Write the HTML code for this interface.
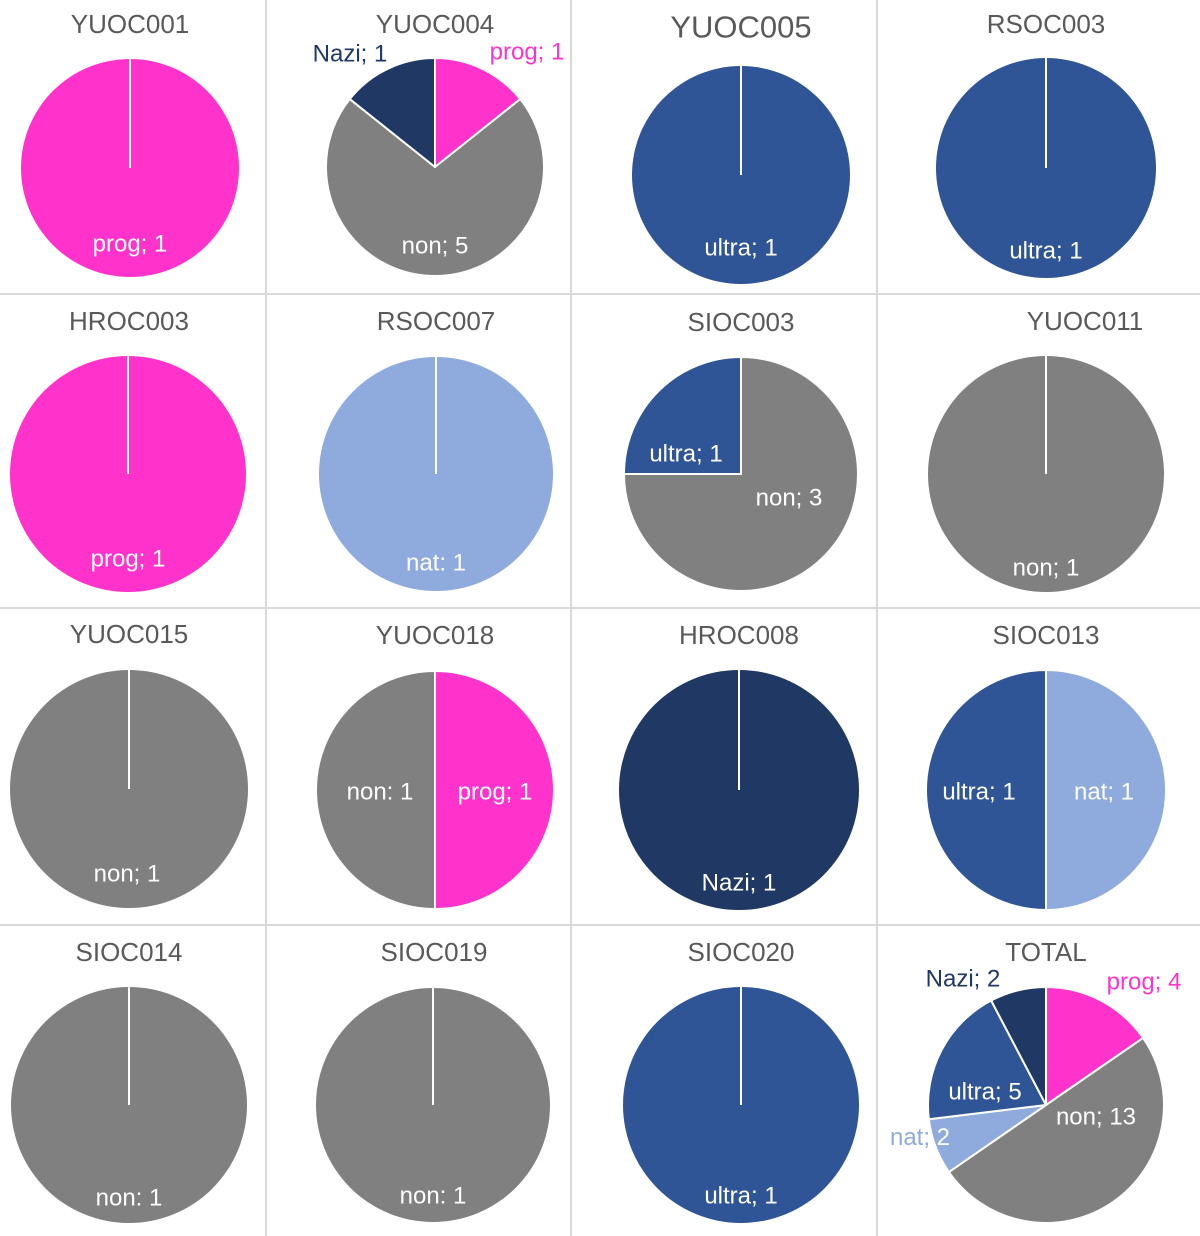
<!DOCTYPE html>
<html><head><meta charset="utf-8">
<style>
html,body{margin:0;padding:0;background:#fff;}
svg{display:block;font-family:"Liberation Sans",Arial,sans-serif;}
</style></head>
<body>
<svg id="chart" width="1200" height="1236" viewBox="0 0 1200 1236">
<g id="grid">
<line x1="266" y1="0" x2="266" y2="1236" stroke="#d9d9d9" stroke-width="2"/>
<line x1="571" y1="0" x2="571" y2="1236" stroke="#d9d9d9" stroke-width="2"/>
<line x1="877" y1="0" x2="877" y2="1236" stroke="#d9d9d9" stroke-width="2"/>
<line x1="0" y1="294" x2="1200" y2="294" stroke="#d9d9d9" stroke-width="2"/>
<line x1="0" y1="608" x2="1200" y2="608" stroke="#d9d9d9" stroke-width="2"/>
<line x1="0" y1="925" x2="1200" y2="925" stroke="#d9d9d9" stroke-width="2"/>
</g>
</svg>
<script>
const titles = ["YUOC001","YUOC004","YUOC005","RSOC003","HROC003","RSOC007","SIOC003","YUOC011","YUOC015","YUOC018","HROC008","SIOC013","SIOC014","SIOC019","SIOC020","TOTAL"];
const categories = [["prog"],["prog","non","Nazi"],["ultra"],["ultra"],["prog"],["nat"],["non","ultra"],["non"],["non"],["prog","non"],["Nazi"],["nat","ultra"],["non"],["non"],["ultra"],["prog","non","nat","ultra","Nazi"]];
const values = [[1],[1,5,1],[1],[1],[1],[1],[3,1],[1],[1],[1,1],[1],[1,1],[1],[1],[1],[4,13,2,5,2]];
const labelText = [["prog; 1"],["prog; 1","non; 5","Nazi; 1"],["ultra; 1"],["ultra; 1"],["prog; 1"],["nat: 1"],["non; 3","ultra; 1"],["non; 1"],["non; 1"],["prog; 1","non: 1"],["Nazi; 1"],["nat; 1","ultra; 1"],["non: 1"],["non: 1"],["ultra; 1"],["prog; 4","non; 13","nat; |2","ultra; 5","Nazi; 2"]];

const colors={prog:"#FF33CC",non:"#808080",Nazi:"#1F3864",ultra:"#2F5597",nat:"#8FAADC"};
const centers=[[130,168,109],[435,167,109],[741,175,109],[1046,168,110],[128,474,118],[436,474,117],[741,474,117],[1046,474,118],[129,789,119],[435,790,119],[739,790,120],[1046,790,120],[129,1105,118],[433,1105,117],[741,1105,118],[1046,1105,118]];
const titlePos=[[130,24,26],[435,24,26],[741,27,31],[1046,24,26],[129,321,26],[436,321,26],[741,322,26],[1085,321,26],[129,634,26],[435,635,26],[739,635,26],[1046,635,26],[129,952,26],[434,952,26],[741,952,26],[1046,952,26]];
const labelPos=[[[130,244,"#fff"]],[[527,52,"#FF33CC"],[435,246,"#fff"],[350,54,"#1F3864"]],[[741,248,"#fff"]],[[1046,251,"#fff"]],[[128,559,"#fff"]],[[436,563,"#fff"]],[[789,498,"#fff"],[686,454,"#fff"]],[[1046,568,"#fff"]],[[127,874,"#fff"]],[[495,792,"#fff"],[380,792,"#fff"]],[[739,883,"#fff"]],[[1104,792,"#fff"],[979,792,"#fff"]],[[129,1198,"#fff"]],[[433,1196,"#fff"]],[[741,1196,"#fff"]],[[1144,982,"#FF33CC"],[1096,1117,"#fff"],[920,1137,"#8FAADC"],[985,1092,"#fff"],[963,979,"#1F3864"]]];

const NS="http://www.w3.org/2000/svg";
const svg=document.getElementById("chart");
function angleScale(v,total){return v/total*2*Math.PI;}
function pt(cx,cy,r,a){return [cx+r*Math.sin(a),cy-r*Math.cos(a)];}

titles.forEach((t,i)=>{
  const g=document.createElementNS(NS,"g");
  
  
  svg.appendChild(g);
  const [cx,cy,r]=centers[i];
  const vals=values[i];
  const total=vals.reduce((a,b)=>a+b,0);
  let a0=0;
  vals.forEach((v,j)=>{
    const cat=categories[i][j];
    let el;
    if(v>=total){
      el=document.createElementNS(NS,"circle");
      el.setAttribute("cx",cx);el.setAttribute("cy",cy);el.setAttribute("r",r);
    } else {
      const a1=a0+angleScale(v,total);
      const p0=pt(cx,cy,r,a0),p1=pt(cx,cy,r,a1);
      el=document.createElementNS(NS,"path");
      el.setAttribute("d",`M${cx},${cy}L${p0[0]},${p0[1]}A${r},${r} 0 ${a1-a0>Math.PI?1:0} 1 ${p1[0]},${p1[1]}Z`);
      el.setAttribute("stroke","#fff");el.setAttribute("stroke-width","2");el.setAttribute("stroke-linejoin","round");
      a0=a1;
    }
    el.setAttribute("fill",colors[cat]);
    
    
    g.appendChild(el);
  });
  if(vals.length===1){
    const ln=document.createElementNS(NS,"line");
    ln.setAttribute("x1",cx);ln.setAttribute("y1",cy);ln.setAttribute("x2",cx);ln.setAttribute("y2",cy-r);
    ln.setAttribute("stroke","#fff");ln.setAttribute("stroke-width","2");
    
    
    g.appendChild(ln);
  }
  const tt=document.createElementNS(NS,"text");
  tt.setAttribute("x",titlePos[i][0]);tt.setAttribute("y",titlePos[i][1]);
  tt.setAttribute("font-size",titlePos[i][2]);tt.setAttribute("fill","#595959");
  tt.setAttribute("text-anchor","middle");tt.setAttribute("dominant-baseline","central");
  tt.textContent=t;
  
  
  g.appendChild(tt);
  labelText[i].forEach((lt,j)=>{
    const lp=labelPos[i][j];
    const tx=document.createElementNS(NS,"text");
    tx.setAttribute("x",lp[0]);tx.setAttribute("y",lp[1]);
    tx.setAttribute("font-size","24");tx.setAttribute("fill",lp[2]);
    tx.setAttribute("text-anchor","middle");tx.setAttribute("dominant-baseline","central");
    if(lt.indexOf("|")>=0){
      const parts=lt.split("|");
      const s1=document.createElementNS(NS,"tspan");s1.textContent=parts[0];
      const s2=document.createElementNS(NS,"tspan");s2.textContent=parts[1];s2.setAttribute("fill","#fff");
      tx.appendChild(s1);tx.appendChild(s2);
    } else tx.textContent=lt;
    
    
    g.appendChild(tx);
  });
});
</script>
</body></html>
